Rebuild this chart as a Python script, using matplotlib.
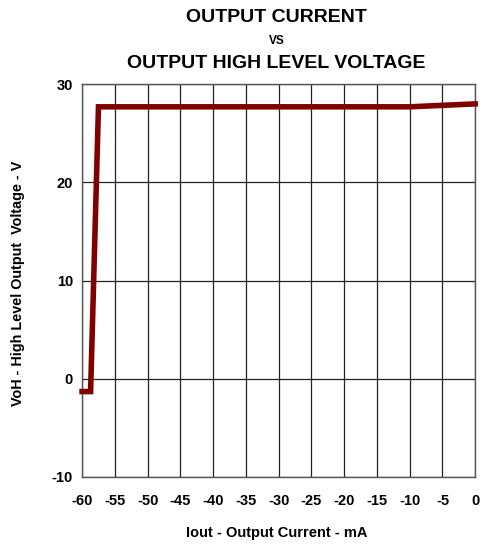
import matplotlib
matplotlib.use("Agg")
import matplotlib.pyplot as plt

plt.rcParams['font.family'] = ['Liberation Sans', 'DejaVu Sans']

iout = [-60, -58.7, -57.5, -10, 0]
voh = [-1.3, -1.3, 27.7, 27.7, 28.0]
xticks = [-60, -55, -50, -45, -40, -35, -30, -25, -20, -15, -10, -5, 0]
yticks = [-10, 0, 10, 20, 30]

fig = plt.figure(figsize=(4.8, 5.47), dpi=100)
ax = fig.add_axes([0.171, 0.128, 0.819, 0.718])
ax.plot(iout, voh, color='#800000', lw=4, solid_joinstyle='miter', clip_on=False, zorder=3)
ax.set_xlim(-60, 0)
ax.set_ylim(-10, 30)
ax.set_xticks(xticks)
ax.set_yticks(yticks)
ax.set_xticklabels([str(t) for t in xticks], fontsize=10.5, fontweight='bold')
ax.set_yticklabels([str(t) for t in yticks], fontsize=10.5, fontweight='bold')
ax.tick_params(length=0)
ax.tick_params(axis='x', pad=12.5)
ax.tick_params(axis='y', pad=6.5)
ax.grid(True, color='#222222', lw=0.9)
for s in ax.spines.values():
    s.set_color('#555555')
    s.set_linewidth(1)

fig.text(0.576, 1 - 533/547, 'Iout - Output Current - mA', ha='center', va='center',
         fontsize=10.5, fontweight='bold')
fig.text(18/480, 1 - 283/547, 'VoH - High Level Output  Voltage - V', ha='center', va='center',
         rotation=90, fontsize=10.4, fontweight='bold')

fig.text(0.576, 1 - 17/547, 'OUTPUT CURRENT', ha='center', va='center', fontsize=14, fontweight='bold')
fig.text(0.576, 1 - 41/547, 'VS', ha='center', va='center', fontsize=8.5, fontweight='bold')
fig.text(0.576, 1 - 63/547, 'OUTPUT HIGH LEVEL VOLTAGE', ha='center', va='center', fontsize=14, fontweight='bold')

fig.savefig('out.png', dpi=100)
